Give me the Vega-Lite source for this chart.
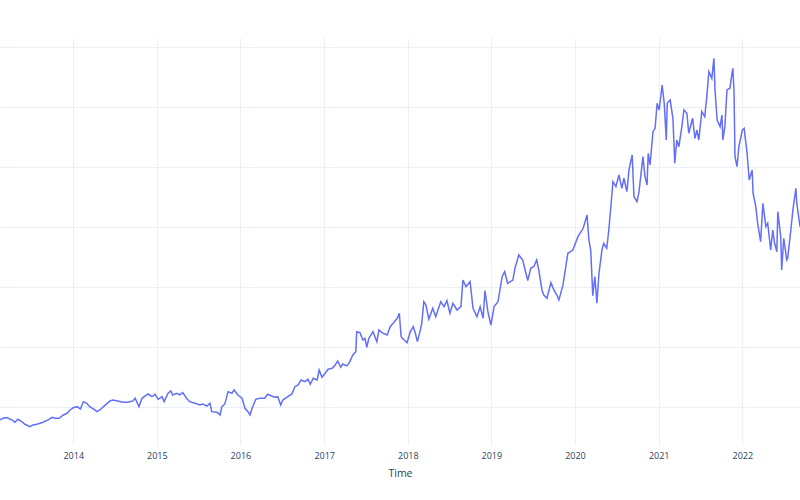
{
  "$schema": "https://vega.github.io/schema/vega-lite/v6.json",
  "width": 800,
  "height": 407,
  "autosize": {"type": "none"},
  "padding": {"left": 0, "right": 0, "top": 38, "bottom": 55},
  "background": "white",
  "config": {
    "view": {"stroke": null},
    "font": "Open Sans"
  },
  "data": {
    "values": [
      {"Time": "2013-02-15", "value": 39.2},
      {"Time": "2013-02-28", "value": 40.6},
      {"Time": "2013-03-16", "value": 41.1},
      {"Time": "2013-04-08", "value": 39.2},
      {"Time": "2013-04-21", "value": 37.25},
      {"Time": "2013-05-04", "value": 39.75},
      {"Time": "2013-05-21", "value": 37.75},
      {"Time": "2013-06-04", "value": 35.6},
      {"Time": "2013-06-26", "value": 33.6},
      {"Time": "2013-07-09", "value": 35},
      {"Time": "2013-07-26", "value": 35.6},
      {"Time": "2013-08-09", "value": 36.4},
      {"Time": "2013-08-22", "value": 37.25},
      {"Time": "2013-09-13", "value": 39.2},
      {"Time": "2013-10-01", "value": 41.4},
      {"Time": "2013-10-14", "value": 40.6},
      {"Time": "2013-11-01", "value": 40.6},
      {"Time": "2013-11-18", "value": 43.3},
      {"Time": "2013-12-05", "value": 44.75},
      {"Time": "2013-12-18", "value": 47.5},
      {"Time": "2014-01-01", "value": 49.4},
      {"Time": "2014-01-18", "value": 50.25},
      {"Time": "2014-02-01", "value": 48.3},
      {"Time": "2014-02-14", "value": 54.4},
      {"Time": "2014-03-01", "value": 53.1},
      {"Time": "2014-03-14", "value": 50.25},
      {"Time": "2014-04-05", "value": 47.5},
      {"Time": "2014-04-14", "value": 46.1},
      {"Time": "2014-04-27", "value": 47.5},
      {"Time": "2014-05-18", "value": 51.1},
      {"Time": "2014-06-10", "value": 55},
      {"Time": "2014-06-23", "value": 55.8},
      {"Time": "2014-07-14", "value": 55},
      {"Time": "2014-08-06", "value": 53.9},
      {"Time": "2014-08-28", "value": 53.9},
      {"Time": "2014-09-19", "value": 55},
      {"Time": "2014-09-28", "value": 57.25},
      {"Time": "2014-10-15", "value": 50.25},
      {"Time": "2014-10-28", "value": 57.25},
      {"Time": "2014-11-24", "value": 60.8},
      {"Time": "2014-12-11", "value": 58.6},
      {"Time": "2014-12-24", "value": 60.6},
      {"Time": "2015-01-07", "value": 56.4},
      {"Time": "2015-01-24", "value": 58.6},
      {"Time": "2015-02-02", "value": 54.4},
      {"Time": "2015-02-19", "value": 61.4},
      {"Time": "2015-03-03", "value": 63.3},
      {"Time": "2015-03-11", "value": 60},
      {"Time": "2015-03-29", "value": 61.4},
      {"Time": "2015-04-11", "value": 60},
      {"Time": "2015-04-24", "value": 61.9},
      {"Time": "2015-05-11", "value": 57.25},
      {"Time": "2015-05-24", "value": 54.4},
      {"Time": "2015-06-16", "value": 53.1},
      {"Time": "2015-07-08", "value": 51.7},
      {"Time": "2015-07-21", "value": 52.5},
      {"Time": "2015-08-08", "value": 50.8},
      {"Time": "2015-08-21", "value": 53.1},
      {"Time": "2015-08-29", "value": 46.1},
      {"Time": "2015-09-21", "value": 45.6},
      {"Time": "2015-10-04", "value": 43.3},
      {"Time": "2015-10-12", "value": 50.25},
      {"Time": "2015-10-25", "value": 52.5},
      {"Time": "2015-11-08", "value": 62.75},
      {"Time": "2015-11-25", "value": 61.4},
      {"Time": "2015-12-04", "value": 64.2},
      {"Time": "2015-12-21", "value": 60},
      {"Time": "2016-01-08", "value": 57.25},
      {"Time": "2016-01-21", "value": 48.9},
      {"Time": "2016-02-03", "value": 46.1},
      {"Time": "2016-02-12", "value": 43.3},
      {"Time": "2016-02-21", "value": 48.9},
      {"Time": "2016-03-08", "value": 56.4},
      {"Time": "2016-03-25", "value": 57.25},
      {"Time": "2016-04-16", "value": 57.25},
      {"Time": "2016-04-29", "value": 60.6},
      {"Time": "2016-05-29", "value": 58.1},
      {"Time": "2016-06-12", "value": 58.6},
      {"Time": "2016-06-25", "value": 51.7},
      {"Time": "2016-07-04", "value": 55.8},
      {"Time": "2016-07-26", "value": 58.6},
      {"Time": "2016-08-13", "value": 60.8},
      {"Time": "2016-08-26", "value": 66.9},
      {"Time": "2016-09-09", "value": 68.3},
      {"Time": "2016-09-22", "value": 72.5},
      {"Time": "2016-10-09", "value": 71.1},
      {"Time": "2016-10-22", "value": 73.1},
      {"Time": "2016-11-01", "value": 68.9},
      {"Time": "2016-11-14", "value": 73.9},
      {"Time": "2016-12-01", "value": 72.5},
      {"Time": "2016-12-10", "value": 80.8},
      {"Time": "2016-12-22", "value": 74.75},
      {"Time": "2017-01-05", "value": 78.1},
      {"Time": "2017-01-18", "value": 81.4},
      {"Time": "2017-02-05", "value": 82.25},
      {"Time": "2017-02-18", "value": 85},
      {"Time": "2017-03-01", "value": 88.3},
      {"Time": "2017-03-14", "value": 83.1},
      {"Time": "2017-03-23", "value": 85.8},
      {"Time": "2017-04-10", "value": 84.2},
      {"Time": "2017-04-23", "value": 87.75},
      {"Time": "2017-05-06", "value": 93.3},
      {"Time": "2017-05-19", "value": 96.1},
      {"Time": "2017-05-23", "value": 112.75},
      {"Time": "2017-06-06", "value": 111.9},
      {"Time": "2017-06-19", "value": 105.8},
      {"Time": "2017-06-28", "value": 107.25},
      {"Time": "2017-07-06", "value": 99.75},
      {"Time": "2017-07-15", "value": 107.25},
      {"Time": "2017-08-02", "value": 112.75},
      {"Time": "2017-08-19", "value": 104.4},
      {"Time": "2017-08-28", "value": 114.2},
      {"Time": "2017-09-15", "value": 111.4},
      {"Time": "2017-10-03", "value": 110},
      {"Time": "2017-10-16", "value": 116.9},
      {"Time": "2017-10-29", "value": 119.75},
      {"Time": "2017-11-16", "value": 123.9},
      {"Time": "2017-11-25", "value": 128.1},
      {"Time": "2017-12-03", "value": 108.6},
      {"Time": "2017-12-16", "value": 105.8},
      {"Time": "2017-12-29", "value": 103.6},
      {"Time": "2018-01-12", "value": 112.75},
      {"Time": "2018-01-25", "value": 116.9},
      {"Time": "2018-02-03", "value": 111.4},
      {"Time": "2018-02-12", "value": 104.4},
      {"Time": "2018-02-25", "value": 114.2},
      {"Time": "2018-03-03", "value": 119.75},
      {"Time": "2018-03-12", "value": 137.75},
      {"Time": "2018-03-21", "value": 135},
      {"Time": "2018-04-03", "value": 123.1},
      {"Time": "2018-04-20", "value": 132.25},
      {"Time": "2018-05-03", "value": 125.25},
      {"Time": "2018-05-25", "value": 137.75},
      {"Time": "2018-06-08", "value": 133.6},
      {"Time": "2018-06-21", "value": 138.6},
      {"Time": "2018-07-04", "value": 128.1},
      {"Time": "2018-07-17", "value": 136.4},
      {"Time": "2018-08-04", "value": 130.8},
      {"Time": "2018-08-21", "value": 133.6},
      {"Time": "2018-08-30", "value": 155.8},
      {"Time": "2018-09-12", "value": 150.25},
      {"Time": "2018-09-30", "value": 154.4},
      {"Time": "2018-10-13", "value": 132.25},
      {"Time": "2018-10-30", "value": 125.25},
      {"Time": "2018-11-13", "value": 133.6},
      {"Time": "2018-11-26", "value": 123.9},
      {"Time": "2018-12-04", "value": 146.9},
      {"Time": "2018-12-17", "value": 129.4},
      {"Time": "2018-12-30", "value": 118.3},
      {"Time": "2019-01-13", "value": 133.6},
      {"Time": "2019-01-30", "value": 137.75},
      {"Time": "2019-02-17", "value": 158.6},
      {"Time": "2019-02-28", "value": 162.75},
      {"Time": "2019-03-13", "value": 153.1},
      {"Time": "2019-04-05", "value": 155.8},
      {"Time": "2019-04-14", "value": 165.6},
      {"Time": "2019-05-01", "value": 176.7},
      {"Time": "2019-05-18", "value": 172.5},
      {"Time": "2019-06-01", "value": 161.4},
      {"Time": "2019-06-09", "value": 155.25},
      {"Time": "2019-06-22", "value": 165.6},
      {"Time": "2019-07-05", "value": 166.9},
      {"Time": "2019-07-18", "value": 172.5},
      {"Time": "2019-07-27", "value": 164.2},
      {"Time": "2019-08-10", "value": 147.5},
      {"Time": "2019-08-18", "value": 143.3},
      {"Time": "2019-09-01", "value": 140.6},
      {"Time": "2019-09-18", "value": 153.6},
      {"Time": "2019-10-01", "value": 147.5},
      {"Time": "2019-10-14", "value": 143.3},
      {"Time": "2019-10-23", "value": 139.2},
      {"Time": "2019-11-10", "value": 151.7},
      {"Time": "2019-12-01", "value": 178.1},
      {"Time": "2019-12-23", "value": 180.8},
      {"Time": "2020-01-14", "value": 191.9},
      {"Time": "2020-02-06", "value": 198.9},
      {"Time": "2020-02-23", "value": 210},
      {"Time": "2020-03-02", "value": 189.2},
      {"Time": "2020-03-10", "value": 180.8},
      {"Time": "2020-03-19", "value": 142.75},
      {"Time": "2020-03-28", "value": 158.6},
      {"Time": "2020-04-06", "value": 136.4},
      {"Time": "2020-04-15", "value": 161.4},
      {"Time": "2020-04-28", "value": 180.8},
      {"Time": "2020-05-06", "value": 186.4},
      {"Time": "2020-05-19", "value": 182.25},
      {"Time": "2020-05-28", "value": 197.5},
      {"Time": "2020-06-11", "value": 228.1},
      {"Time": "2020-06-15", "value": 237.75},
      {"Time": "2020-06-28", "value": 233.6},
      {"Time": "2020-07-11", "value": 243.3},
      {"Time": "2020-07-24", "value": 232.25},
      {"Time": "2020-08-02", "value": 240.6},
      {"Time": "2020-08-15", "value": 229.4},
      {"Time": "2020-08-24", "value": 247.5},
      {"Time": "2020-09-07", "value": 260},
      {"Time": "2020-09-15", "value": 225.25},
      {"Time": "2020-09-28", "value": 221.1},
      {"Time": "2020-10-07", "value": 229.4},
      {"Time": "2020-10-24", "value": 258.6},
      {"Time": "2020-11-02", "value": 241.9},
      {"Time": "2020-11-11", "value": 235},
      {"Time": "2020-11-16", "value": 261.4},
      {"Time": "2020-11-24", "value": 251.7},
      {"Time": "2020-12-07", "value": 279.4},
      {"Time": "2020-12-16", "value": 282.25},
      {"Time": "2020-12-25", "value": 303.1},
      {"Time": "2021-01-03", "value": 297.5},
      {"Time": "2021-01-16", "value": 318.3},
      {"Time": "2021-01-25", "value": 303.1},
      {"Time": "2021-02-03", "value": 272.5},
      {"Time": "2021-02-07", "value": 303.1},
      {"Time": "2021-02-20", "value": 305.8},
      {"Time": "2021-03-04", "value": 290.6},
      {"Time": "2021-03-12", "value": 253.1},
      {"Time": "2021-03-21", "value": 272.5},
      {"Time": "2021-03-30", "value": 266.9},
      {"Time": "2021-04-12", "value": 283.6},
      {"Time": "2021-04-21", "value": 297.5},
      {"Time": "2021-05-04", "value": 294.75},
      {"Time": "2021-05-12", "value": 278.1},
      {"Time": "2021-05-29", "value": 290.6},
      {"Time": "2021-06-08", "value": 273.9},
      {"Time": "2021-06-17", "value": 280.8},
      {"Time": "2021-06-25", "value": 272.5},
      {"Time": "2021-07-08", "value": 296.1},
      {"Time": "2021-07-21", "value": 291.9},
      {"Time": "2021-07-30", "value": 308.6},
      {"Time": "2021-08-08", "value": 329.4},
      {"Time": "2021-08-21", "value": 323.9},
      {"Time": "2021-08-30", "value": 340.6},
      {"Time": "2021-09-04", "value": 314.2},
      {"Time": "2021-09-13", "value": 289.2},
      {"Time": "2021-09-26", "value": 283.6},
      {"Time": "2021-10-04", "value": 293.3},
      {"Time": "2021-10-08", "value": 272.5},
      {"Time": "2021-10-17", "value": 283.6},
      {"Time": "2021-10-26", "value": 314.2},
      {"Time": "2021-11-08", "value": 315.6},
      {"Time": "2021-11-17", "value": 328.1},
      {"Time": "2021-11-21", "value": 332.25},
      {"Time": "2021-11-26", "value": 311.4},
      {"Time": "2021-11-30", "value": 258.6},
      {"Time": "2021-12-09", "value": 250.25},
      {"Time": "2021-12-17", "value": 266.9},
      {"Time": "2022-01-01", "value": 280.8},
      {"Time": "2022-01-09", "value": 282.25},
      {"Time": "2022-01-22", "value": 261.4},
      {"Time": "2022-01-31", "value": 239.2},
      {"Time": "2022-02-13", "value": 247.5},
      {"Time": "2022-02-17", "value": 228.1},
      {"Time": "2022-03-01", "value": 216.9},
      {"Time": "2022-03-09", "value": 203.1},
      {"Time": "2022-03-22", "value": 187.75},
      {"Time": "2022-04-01", "value": 219.75},
      {"Time": "2022-04-14", "value": 200.25},
      {"Time": "2022-04-22", "value": 203.1},
      {"Time": "2022-05-05", "value": 180.8},
      {"Time": "2022-05-14", "value": 197.5},
      {"Time": "2022-05-22", "value": 186.4},
      {"Time": "2022-06-01", "value": 179.4},
      {"Time": "2022-06-05", "value": 212.75},
      {"Time": "2022-06-18", "value": 191.9},
      {"Time": "2022-06-22", "value": 164.2},
      {"Time": "2022-07-01", "value": 190.6},
      {"Time": "2022-07-14", "value": 172.5},
      {"Time": "2022-07-18", "value": 173.9},
      {"Time": "2022-08-01", "value": 197.5},
      {"Time": "2022-08-10", "value": 214.2},
      {"Time": "2022-08-23", "value": 232.25},
      {"Time": "2022-08-27", "value": 219.75},
      {"Time": "2022-09-10", "value": 200.25}
    ]
  },
  "mark": {"type": "line", "color": "#636efa", "strokeWidth": 1.5, "clip": true},
  "encoding": {
    "x": {
      "field": "Time",
      "type": "temporal",
      "title": "Time",
      "scale": {"domain": ["2013-02-15", "2022-09-10"], "nice": false},
      "axis": {
        "format": "%Y",
        "tickCount": {"interval": "year", "step": 1},
        "grid": true,
        "gridColor": "#EBF0F8",
        "gridWidth": 1,
        "domain": false,
        "ticks": false,
        "labelPadding": 6,
        "labelFont": "Open Sans",
        "labelFontSize": 9,
        "labelColor": "#2a3f5f",
        "titleFont": "Open Sans",
        "titleFontSize": 10.5,
        "titleFontWeight": "normal",
        "titleColor": "#2a3f5f",
        "titlePadding": 8
      }
    },
    "y": {
      "field": "value",
      "type": "quantitative",
      "title": null,
      "scale": {"domain": [18.3, 357.5], "nice": false, "zero": false},
      "axis": {
        "values": [50, 100, 150, 200, 250, 300, 350],
        "grid": true,
        "gridColor": "#EBF0F8",
        "gridWidth": 1,
        "domain": false,
        "ticks": false,
        "labels": false
      }
    }
  }
}
